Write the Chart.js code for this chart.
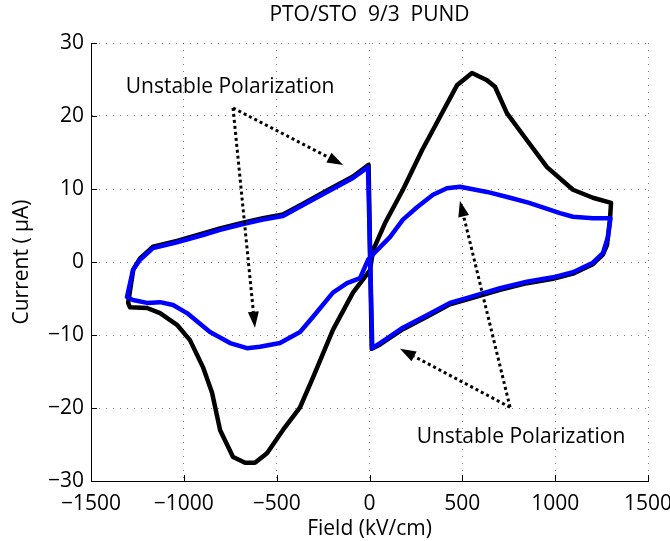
<!DOCTYPE html>
<html>
<head>
<meta charset="utf-8">
<script src="https://cdn.jsdelivr.net/npm/chart.js@4.4.1/dist/chart.umd.min.js"></script>
<style>
  html, body { margin: 0; padding: 0; background: #fff; }
</style>
</head>
<body>
<canvas id="pundChart" width="670" height="541"></canvas>
<script>
// black loop
const fieldBlack = [
  -1300, -1272, -1236, -1166, -1037, -897, -805, -681, -574, -466, -358, -229, -89, -5,
  12, 57, 180, 309, 433, 541, 703, 848, 988, 1096, 1203, 1257, 1279, 1295, 1301,
  1203, 1096, 956, 827, 740, 676, 633, 552, 471, 380, 283, 180, 83, 19,
  3, -89, -197, -304, -374, -466, -552, -617, -670, -735, -805, -848, -897, -967,
  -1037, -1128, -1198, -1290, -1300
];
const currentBlack = [
  -5.6, -1.0, 0.5, 2.1, 2.9, 3.9, 4.6, 5.4, 6.0, 6.5, 8.0, 9.8, 11.7, 13.3,
  -11.9, -11.3, -9.2, -7.5, -5.8, -5.0, -3.8, -2.9, -2.3, -1.6, -0.3, 1.0, 2.3, 5.8, 8.1,
  8.8, 9.9, 13.0, 17.4, 20.4, 24.0, 24.9, 25.9, 24.2, 19.9, 15.3, 9.9, 5.3, 1.6,
  -1.1, -4.2, -9.3, -15.8, -19.9, -23.0, -26.2, -27.5, -27.5, -26.7, -23.0, -17.9, -14.4, -10.7,
  -8.6, -7.0, -6.3, -6.2, -5.6
];

// blue loop
const fieldBlue = [
  -1306, -1274, -1236, -1166, -1037, -897, -805, -681, -574, -466, -358, -229, -89, -8,
  15, 57, 180, 309, 433, 541, 703, 848, 988, 1096, 1203, 1257, 1284, 1298,
  1203, 1096, 1026, 860, 757, 633, 487, 417, 342, 256, 180, 110, 40, -8,
  -51, -121, -197, -304, -374, -482, -590, -660, -751, -859, -983, -1058, -1128, -1198, -1274, -1306
];
const currentBlue = [
  -4.8, -1.1, 0.3, 1.9, 2.7, 3.7, 4.4, 5.2, 5.8, 6.3, 7.8, 9.6, 11.5, 13.0,
  -11.8, -11.1, -9.0, -7.3, -5.6, -4.8, -3.6, -2.7, -2.1, -1.4, -0.1, 1.2, 3.4, 6.0,
  6.0, 6.2, 6.7, 8.1, 8.8, 9.6, 10.3, 10.1, 9.2, 7.5, 5.8, 3.4, 1.6, 0.3,
  -2.2, -2.9, -4.2, -7.5, -9.6, -11.1, -11.6, -11.8, -11.1, -9.6, -7.0, -5.9, -5.5, -5.6, -5.2, -4.8
];

const fieldTicks = [-1500, -1000, -500, 0, 500, 1000, 1500];
const currentTicks = [-30, -20, -10, 0, 10, 20, 30];

const chartTitle = 'PTO/STO  9/3  PUND';

// annotation arrows in data units: tail -> tip
const arrows = [
  { from: [-735, 21.1], to: [-142, 13.3] },
  { from: [-735, 21.1], to: [-617, -9.0] },
  { from: [757, -19.9], to: [164, -11.9] },
  { from: [757, -19.9], to: [487, 8.4] }
];
const notes = [
  { text: 'Unstable Polarization', at: [-751, 24.0] },
  { text: 'Unstable Polarization', at: [816, -24.0] }
];

const FONT = '"Open Sans", "DejaVu Sans", sans-serif';
const minus = v => String(v).replace('-', '\u2212');

const toPoints = (xs, ys) => xs.map((x, i) => ({ x: x, y: ys[i] }));

const extrasPlugin = {
  id: 'extras',
  afterDatasetsDraw(chart) {
    const ctx = chart.ctx;
    const xs = chart.scales.x;
    const ys = chart.scales.y;
    const area = chart.chartArea;
    ctx.save();

    // inward tick marks (left and bottom)
    ctx.strokeStyle = '#000';
    ctx.lineWidth = 1;
    ctx.beginPath();
    fieldTicks.forEach(v => {
      const px = Math.round(xs.getPixelForValue(v)) + 0.5;
      ctx.moveTo(px, area.bottom);
      ctx.lineTo(px, area.bottom - 6);
    });
    currentTicks.forEach(v => {
      const py = Math.round(ys.getPixelForValue(v)) + 0.5;
      ctx.moveTo(area.left, py);
      ctx.lineTo(area.left + 6, py);
    });
    ctx.stroke();

    // dotted arrows
    arrows.forEach(a => {
      const x0 = xs.getPixelForValue(a.from[0]);
      const y0 = ys.getPixelForValue(a.from[1]);
      const x1 = xs.getPixelForValue(a.to[0]);
      const y1 = ys.getPixelForValue(a.to[1]);
      const ang = Math.atan2(y1 - y0, x1 - x0);
      const headLen = 16, headW = 5.5;
      const bx = x1 - headLen * Math.cos(ang);
      const by = y1 - headLen * Math.sin(ang);
      ctx.strokeStyle = '#000';
      ctx.lineWidth = 3;
      ctx.setLineDash([3, 3]);
      ctx.beginPath();
      ctx.moveTo(x0, y0);
      ctx.lineTo(bx, by);
      ctx.stroke();
      ctx.setLineDash([]);
      ctx.fillStyle = '#000';
      ctx.beginPath();
      ctx.moveTo(x1, y1);
      ctx.lineTo(bx + headW * Math.sin(ang), by - headW * Math.cos(ang));
      ctx.lineTo(bx - headW * Math.sin(ang), by + headW * Math.cos(ang));
      ctx.closePath();
      ctx.fill();
    });

    // labels
    ctx.fillStyle = '#000';
    ctx.font = '21px ' + FONT;
    ctx.textAlign = 'center';
    ctx.textBaseline = 'middle';
    notes.forEach(n => {
      ctx.fillText(n.text, xs.getPixelForValue(n.at[0]), ys.getPixelForValue(n.at[1]));
    });

    // title, centred over the plot area
    ctx.fillText(chartTitle, (area.left + area.right) / 2, 15);
    ctx.restore();
  }
};

const gridStyle = {
  color: 'rgba(0,0,0,0.5)',
  lineWidth: 1,
  drawTicks: false
};

new Chart(document.getElementById('pundChart').getContext('2d'), {
  type: 'scatter',
  data: {
    datasets: [
      {
        label: 'blue',
        data: toPoints(fieldBlue, currentBlue),
        showLine: true,
        borderColor: '#0000ff',
        borderWidth: 4.5,
        pointRadius: 0,
        borderJoinStyle: 'round',
        borderCapStyle: 'round',
        fill: false
      },
      {
        label: 'black',
        data: toPoints(fieldBlack, currentBlack),
        showLine: true,
        borderColor: '#000000',
        borderWidth: 4.5,
        pointRadius: 0,
        borderJoinStyle: 'round',
        borderCapStyle: 'round',
        fill: false
      }
    ]
  },
  options: {
    responsive: false,
    animation: false,
    devicePixelRatio: 1,
    layout: { padding: { left: 0, right: 22, top: 43, bottom: 0 } },
    plugins: {
      legend: { display: false },
      tooltip: { enabled: false },
      title: { display: false }
    },
    scales: {
      x: {
        type: 'linear',
        min: -1500,
        max: 1500,
        afterBuildTicks: s => { s.ticks = fieldTicks.map(v => ({ value: v })); },
        afterFit: s => { s.height = 60; s.paddingLeft = 0; s.paddingRight = 0; },
        ticks: {
          color: '#000',
          padding: 10,
          maxRotation: 0,
          font: { family: FONT, size: 21 },
          callback: v => minus(v)
        },
        grid: gridStyle,
        border: { display: true, color: '#000', width: 1, dash: [1, 6] },
        title: {
          display: true,
          text: 'Field (kV/cm)',
          color: '#000',
          font: { family: FONT, size: 21 },
          padding: { top: 0, bottom: -1 }
        }
      },
      y: {
        type: 'linear',
        min: -30,
        max: 30,
        afterBuildTicks: s => { s.ticks = currentTicks.map(v => ({ value: v })); },
        afterFit: s => { s.width = 91; s.paddingTop = 0; s.paddingBottom = 0; },
        ticks: {
          color: '#000',
          padding: 7,
          font: { family: FONT, size: 21 },
          callback: v => minus(v)
        },
        grid: gridStyle,
        border: { display: true, color: '#000', width: 1, dash: [1, 6] },
        title: {
          display: true,
          text: 'Current ( \u03bcA)',
          color: '#000',
          font: { family: FONT, size: 21 },
          padding: { top: 9, bottom: 0 }
        }
      }
    }
  },
  plugins: [extrasPlugin]
});
</script>
</body>
</html>
